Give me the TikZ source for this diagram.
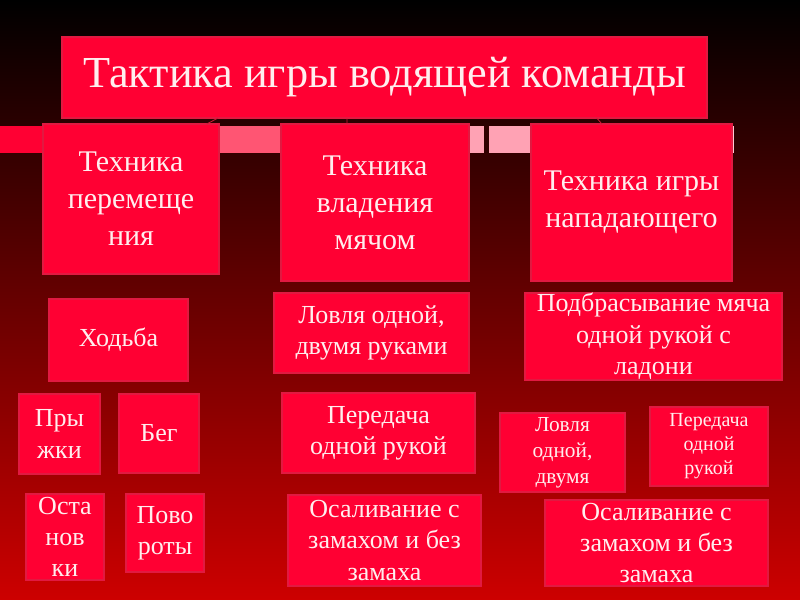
\documentclass[tikz,border=0pt]{standalone}
\usepackage{fontspec}
\setmainfont{Liberation Serif}
\usetikzlibrary{calc, positioning}
\definecolor{boxred}{RGB}{255,0,51}
\definecolor{edgered}{RGB}{225,25,65}
\definecolor{textwhite}{RGB}{255,238,238}
\definecolor{bgred}{RGB}{205,0,0}
\definecolor{strippink}{RGB}{255,85,115}
\definecolor{striplight}{RGB}{255,162,180}
\definecolor{stripgap}{RGB}{48,0,0}
\definecolor{linkred}{RGB}{205,25,55}
\tikzset{
    red_box/.style={rectangle, fill=boxred, draw=edgered, line width=0.8pt, inner sep=0pt, outer sep=0pt},
    box_size/.style 2 args={minimum width=#1*0.75pt, minimum height=#2*0.75pt},
    title_text/.style={text=textwhite, align=center, font=\fontsize{33.2}{40}\selectfont},
    head_text/.style={text=textwhite, align=center, font=\fontsize{22.5}{27.75}\selectfont},
    item_text/.style={text=textwhite, align=center, font=\fontsize{19.5}{23.5}\selectfont},
    small_text/.style={text=textwhite, align=center, font=\fontsize{16}{19.5}\selectfont},
    link/.style={draw=linkred, line width=0.6pt},
}

\begin{document}
\begin{tikzpicture}[x=0.75pt, y=-0.75pt]
      %%%%%%%%%%%%%%
      % Background %
      %%%%%%%%%%%%%%
      \shade [top color=black, bottom color=bgred] (0,0) rectangle (800,600);
      \useasboundingbox (0,0) rectangle (800,600);
      \fill [boxred] (0,126) rectangle (43,153);
      \fill [strippink] (219,126) rectangle (281,153);
      \fill [striplight] (469,126) rectangle (484,153);
      \fill [stripgap] (484,126) rectangle (489,153);
      \fill [striplight] (489,126) rectangle (531,153);
      \fill [striplight!60!white] (732,126) rectangle (734,153);

      %%%%%%%%%%%%%%%%%%
      % Title and heads %
      %%%%%%%%%%%%%%%%%%
      \node (tactics) [red_box, box_size={645}{81},
          label={[title_text]center:{Тактика игры водящей команды}}] at (384.5,77.5) {};
      \node (moving) [red_box, box_size={176}{150},
          label={[head_text]center:{Техника\\перемеще\\ния}}] at (131,199) {};
      \node (ballwork) [red_box, box_size={188}{157},
          label={[head_text]center:{Техника\\владения\\мячом}}] at (375,202.5) {};
      \node (attacker) [red_box, box_size={201}{157},
          label={[head_text]center:{Техника игры\\нападающего}}] at (631.5,202.5) {};

      \draw [link] ($(tactics.south west)!0.242!(tactics.south east)$)
          -- ($(moving.north west)!0.93!(moving.north east)$);
      \draw [link] ($(tactics.south west)!0.442!(tactics.south east)$)
          -- ($(ballwork.north west)!0.351!(ballwork.north east)$);
      \draw [link] ($(tactics.south west)!0.829!(tactics.south east)$)
          -- ($(attacker.north west)!0.353!(attacker.north east)$);

      %%%%%%%%%%%%%%%%
      % Moving items %
      %%%%%%%%%%%%%%%%
      \node (walk) [red_box, box_size={139}{82},
          label={[item_text]center:{Ходьба}}] at (118.5,340) {};
      \node (jumps) [red_box, box_size={81}{80},
          label={[item_text]center:{Пры\\жки}}] at (59.5,434) {};
      \node (run) [red_box, box_size={80}{79},
          label={[item_text]center:{Бег}}] at (159,433.5) {};
      \node (stops) [red_box, box_size={78}{86},
          label={[item_text]center:{Оста\\нов\\ки}}] at (65,537) {};
      \node (turns) [red_box, box_size={78}{78},
          label={[item_text]center:{Пово\\роты}}] at (165,533) {};

      %%%%%%%%%%%%%%
      % Ball items %
      %%%%%%%%%%%%%%
      \node (catching) [red_box, box_size={195}{80},
          label={[item_text]center:{Ловля одной,\\двумя руками}}] at (371.5,333) {};
      \node (passing) [red_box, box_size={193}{80},
          label={[item_text]center:{Передача\\одной рукой}}] at (378.5,433) {};
      \node (tagging) [red_box, box_size={193}{91},
          label={[item_text]center:{Осаливание с\\замахом и без\\замаха}}] at (384.5,540.5) {};

      %%%%%%%%%%%%%%%%%%
      % Attacker items %
      %%%%%%%%%%%%%%%%%%
      \node (tossing) [red_box, box_size={257}{87},
          label={[item_text]center:{Подбрасывание мяча\\одной рукой с\\ладони}}] at (653.5,336.5) {};
      \node (catching_a) [red_box, box_size={125}{79},
          label={[small_text]center:{Ловля\\одной,\\двумя}}] at (562.5,452.5) {};
      \node (passing_a) [red_box, box_size={118}{79},
          label={[small_text, font=\fontsize{15}{18}\selectfont]center:{Передача\\одной\\рукой}}] at (709,446.5) {};
      \node (tagging_a) [red_box, box_size={223}{86},
          label={[item_text]center:{Осаливание с\\замахом и без\\замаха}}] at (656.5,543) {};

    \end{tikzpicture}
\end{document}
